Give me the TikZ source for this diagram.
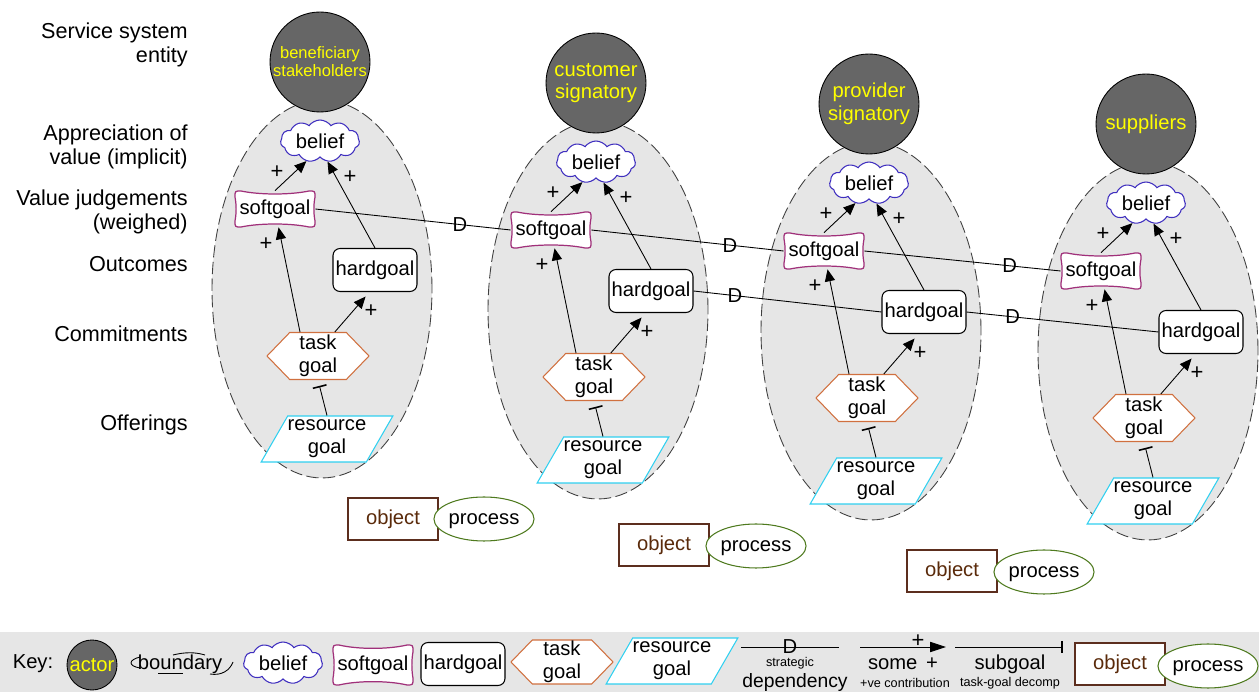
\documentclass[tikz,border=0pt]{standalone}
\usepackage{fontspec}
\setmainfont{Liberation Sans}
\usetikzlibrary{shapes.geometric,shapes.symbols,arrows.meta,calc}
\definecolor{actorc}{HTML}{666666}
\definecolor{boundf}{HTML}{E6E6E6}
\definecolor{boundc}{HTML}{404040}
\definecolor{beliefc}{HTML}{3F2FBF}
\definecolor{sgc}{HTML}{A0307A}
\definecolor{taskc}{HTML}{D0703F}
\definecolor{resc}{HTML}{30D0F0}
\definecolor{objc}{HTML}{5C2E1E}
\definecolor{objtc}{HTML}{5A2A0A}
\definecolor{procc}{HTML}{4E7A1E}
\definecolor{actortxt}{HTML}{FFFF00}
\pgfdeclarelayer{bg}
\pgfdeclarelayer{shp}
\pgfsetlayers{bg,shp,main}
\newcommand\sgoutline[2][1]{%
\begin{pgfonlayer}{shp}\begin{scope}[shift={(#2.center)},yscale=#1]
\path[sgline] (-40,-12) .. controls (-40,-18) .. (-34,-18) .. controls (-15,-14) and (15,-14) .. (34,-18) .. controls (40,-18) .. (40,-12) .. controls (38.5,-4) and (38.5,4) .. (40,12) .. controls (40,18) .. (34,18) .. controls (15,14) and (-15,14) .. (-34,18) .. controls (-40,18) .. (-40,12) .. controls (-38.5,4) and (-38.5,-4) .. (-40,-12) -- cycle;
\end{scope}\end{pgfonlayer}}
\newcommand\svcol[4]{%
\begin{scope}[shift={#2}]
\begin{pgfonlayer}{bg}
\node[bound] (e#1) at (322,289) {};
\end{pgfonlayer}
\node[actor,font=#4] (a#1) at (320,62) {#3};
\node[belief] (b#1) at (320,141) {belief};
\node[softg] (s#1) at (275,209) {softgoal};
\node[hardg] (h#1) at (375,270) {hardgoal};
\node[taskg] (t#1) at (318,356) {task\\goal};
\node[resg] (r#1) at (327,439) {resource\\goal};
\node[plus] (pa#1) at (277,172) {+};
\node[plus] (pb#1) at (350,177) {+};
\node[plus] (pc#1) at (266,244) {+};
\node[plus] (pd#1) at (371,311) {+};
\end{scope}
\sgoutline{s#1}
\draw[arr] (s#1.north) -- (b#1.236);
\draw[arr] (h#1.north) -- (b#1.290);
\draw[arr] (t#1.127) -- (s#1.281);
\draw[arr, shorten >=0.12cm] (t#1.55) -- (h#1.256);
\draw[subg, shorten >=0.12cm] (r#1.north) -- (t#1.south);
}
\begin{document}
\begin{tikzpicture}[x=0.02cm,y=-0.02cm,
  font=\fontsize{11.5}{13}\selectfont,
  actor/.style={circle, draw=black, fill=actorc, minimum size=2cm, inner sep=0pt, text=actortxt, align=center, line width=0.5pt},
  bound/.style={ellipse, draw=boundc, fill=boundf, dash pattern=on 7pt off 2.5pt, line width=0.5pt, minimum width=4.4cm, minimum height=7.56cm},
  belief/.style={cloud, cloud puffs=11, cloud puff arc=110, cloud ignores aspect, draw=beliefc, fill=white, minimum width=1.58cm, minimum height=0.84cm, inner sep=0pt, line width=0.6pt},
  softg/.style={minimum width=1.6cm, minimum height=0.72cm, inner sep=0pt},
  sgline/.style={draw=sgc, fill=white, line width=0.7pt},
  hardg/.style={rectangle, rounded corners=4pt, draw=black, fill=white, minimum width=1.68cm, minimum height=0.86cm, inner sep=0pt, line width=0.6pt},
  taskg/.style={signal, signal to=west and east, signal pointer angle=92, draw=taskc, fill=white, minimum width=2.04cm, minimum height=0.94cm, inner sep=0pt, align=center, line width=0.6pt},
  resg/.style={trapezium, trapezium left angle=55, trapezium right angle=125, trapezium stretches=true, draw=resc, fill=white, minimum width=2.52cm, minimum height=0.92cm, inner sep=0pt, align=center, line width=0.6pt},
  obj/.style={rectangle, draw=objc, fill=white, text=objtc, minimum width=1.8cm, minimum height=0.84cm, line width=0.6pt},
  proc/.style={ellipse, draw=procc, fill=white, minimum width=1.66cm, minimum height=0.88cm, inner sep=0pt, text height=8.3pt, text depth=2.4pt, line width=0.6pt},
  lbl/.style={anchor=east, align=right, inner sep=0pt, font=\fontsize{12.3}{13.6}\selectfont},
  arr/.style={draw=black, line width=0.5pt, -{Triangle[length=6.8pt,width=5.8pt]}},
  subg/.style={draw=black, line width=0.5pt, -{Bar[width=8pt,line width=0.9pt]}},
  dep/.style={draw=black, line width=0.5pt},
  dlab/.style={inner sep=0pt},
  plus/.style={inner sep=0pt, font=\fontsize{12.5}{13}\selectfont},
  small/.style={inner sep=0pt, font=\fontsize{7.2}{8}\selectfont}
]
\useasboundingbox (0,0) rectangle (1259,692);
\begin{pgfonlayer}{bg}
\fill[boundf] (0,632) rectangle (1259,692);
\end{pgfonlayer}

% left labels
\node[lbl] (l1) at (188,45) {Service system\\entity};
\node[lbl] (l2) at (188,147) {Appreciation of\\value (implicit)};
\node[lbl] (l3) at (188,212) {Value judgements\\(weighed)};
\node[lbl] (l4) at (188,264) {Outcomes};
\node[lbl] (l5) at (188,334) {Commitments};
\node[lbl] (l6) at (188,425) {Offerings};

% columns
\svcol{1}{(0,0)}{beneficiary\\stakeholders}{\fontsize{9.4}{10.2}\selectfont}
\svcol{2}{(276,21)}{customer\\signatory}{\fontsize{11.5}{13}\selectfont}
\svcol{3}{(549,42)}{provider\\signatory}{\fontsize{11.5}{13}\selectfont}
\svcol{4}{(826,62)}{suppliers}{\fontsize{11.5}{13}\selectfont}

% strategic dependencies
\draw[dep] (s1.east) -- node[dlab,pos=0.74] (d1) {D} (s2.west);
\draw[dep] (s2.east) -- node[dlab,pos=0.72] (d2) {D} (s3.west);
\draw[dep] (s3.east) -- node[dlab,pos=0.74] (d3) {D} (s4.west);
\draw[dep] (h2.east) -- node[dlab,pos=0.22] (d4) {D} (h3.west);
\draw[dep] (h3.east) -- node[dlab,pos=0.24] (d5) {D} (h4.west);

% objects and processes
\node[obj] (o1) at (393,519) {object};
\node[proc] (q1) at (484,519) {process};
\node[obj] (o2) at (664,545) {object};
\node[proc] (q2) at (756,546) {process};
\node[obj] (o3) at (952,571) {object};
\node[proc] (q3) at (1044,572) {process};

% key
\node (kl) at (33,664) {Key:};
\node[actor, minimum size=1cm] (ka) at (92,665) {actor};
\node (kb) at (180,664) {boundary};
\draw[line width=0.5pt] (140,657) .. controls (128,660) and (128,666) .. (140,668);
\draw[line width=0.5pt] (173,655) .. controls (185,652) and (195,652) .. (205,655);
\draw[line width=0.5pt] (158,673) -- (183,673);
\draw[line width=0.5pt] (210,674) .. controls (222,676) and (230,670) .. (233,662);
\node[belief] (kbe) at (283,663) {belief};
\node[softg, minimum height=0.8cm] (ks) at (373,665) {softgoal};
\sgoutline[1.11]{ks}
\node[hardg] (kh) at (463,664) {hardgoal};
\node[taskg, minimum height=0.88cm] (kt) at (562,662) {task\\goal};
\node[resg] (kr) at (672,661) {resource\\goal};
\coordinate (kd1) at (741,647);
\coordinate (kd2) at (839,647);
\draw[dep] (kd1) -- node[dlab] (kdl) {D} (kd2);
\node[small] (kds) at (790,663) {strategic};
\node[font=\fontsize{11}{12}\selectfont] (kdd) at (795,683) {dependency};
\coordinate (kc1) at (860,647);
\coordinate (kc2) at (946,647);
\draw[draw=black, line width=0.5pt, -{Triangle[length=9pt,width=5.8pt]}] (kc1) -- (kc2);
\node[plus] (kcp) at (918,641) {+};
\node (kcs) at (903,664) {some\hspace{5pt}+};
\node[small] (kcc) at (905,683) {+ve contribution};
\coordinate (kg1) at (955,647);
\coordinate (kg2) at (1063,647);
\draw[draw=black, line width=0.5pt, -{Bar[width=7pt,line width=1.1pt]}] (kg1) -- (kg2);
\node (ksg) at (1010,664) {subgoal};
\node[small] (ksd) at (1010,683) {task-goal decomp};
\node[obj] (ko) at (1120,664) {object};
\node[proc] (kp) at (1208,666) {process};
\end{tikzpicture}
\end{document}
